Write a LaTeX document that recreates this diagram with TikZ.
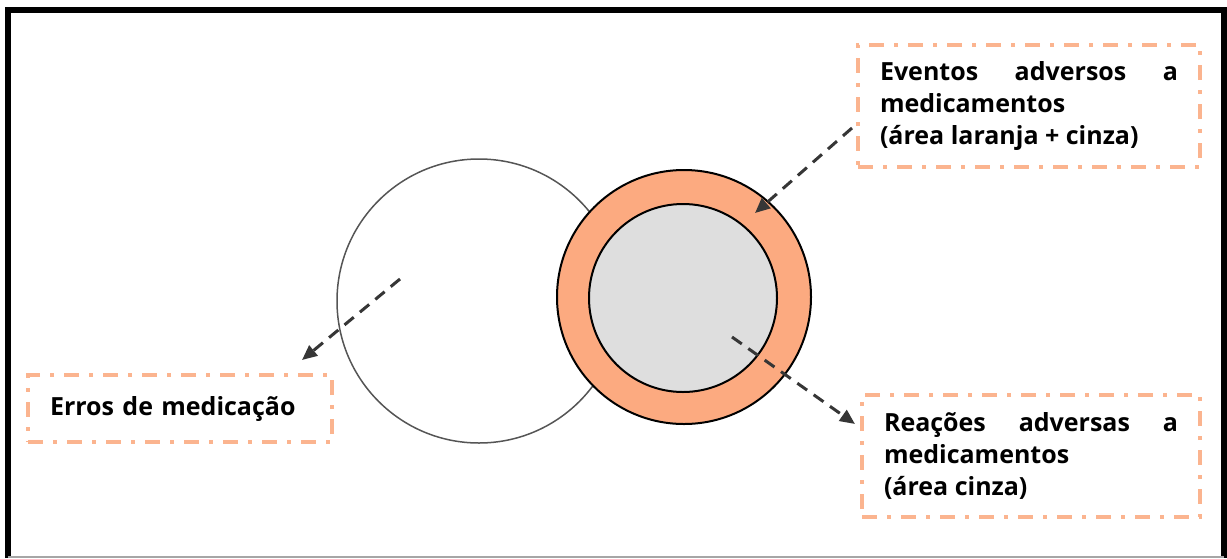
\documentclass[tikz,border=0pt]{standalone}
\usepackage{fontspec}
\setmainfont{Open Sans}
\usetikzlibrary{arrows.meta}
\definecolor{ringorange}{HTML}{FCAA80}
\definecolor{boxorange}{HTML}{FBB48F}
\definecolor{innergray}{HTML}{DEDEDE}
\definecolor{arrowgray}{HTML}{363636}
\definecolor{circgray}{HTML}{555555}
\tikzset{
  labelbox/.style={draw=boxorange, line width=4pt,
    dash pattern=on 15pt off 10pt on 4pt off 10pt,
    font=\fontsize{25}{32}\selectfont\bfseries, align=justify, anchor=center},
  pointer/.style={draw=arrowgray, line width=3pt, dash pattern=on 12pt off 8pt,
    -{Triangle[length=15pt,width=13pt]}},
}
\begin{document}
\begin{tikzpicture}[x=1pt,y=-1pt]
\useasboundingbox (0,0) rectangle (1227,558);
% frame
\draw[line width=6pt] (8,558) -- (8,10) -- (1224,10) -- (1224,558);
\draw[line width=1.5pt, gray!70] (8,557.2) -- (1224,557.2);
% circles
\node[circle, draw=circgray, line width=1.5pt, fill=white, minimum size=284pt, inner sep=0pt] (erros) at (479,301) {};
\node[circle, draw=black, line width=2pt, fill=ringorange, minimum size=254pt, inner sep=0pt] (eventos) at (684,297) {};
\node[circle, draw=black, line width=2pt, fill=innergray, minimum size=188pt, inner sep=0pt] (reacoes) at (683,298) {};
% boxes
\node[labelbox, text width=298pt, inner xsep=22pt, minimum height=122pt] (b1) at (1029,106)
  {Eventos\hfill adversos\hfill a\\ medicamentos\\ (área laranja + cinza)};
\node[labelbox, text width=260pt, inner xsep=22pt, minimum height=67pt, align=left] (b2) at (180,408.5)
  {Erros de medicação};
\node[labelbox, text width=294pt, inner xsep=22pt, minimum height=122pt] (b3) at (1031,456)
  {Reações\hfill adversas\hfill a\\ medicamentos\\ (área cinza)};
% pointer ends
\coordinate (p1s) at (400,279);
\coordinate (p1e) at (302,360);
\coordinate (p2s) at (852,128);
\coordinate (p2e) at (755,213);
\coordinate (p3s) at (732,337);
\coordinate (p3e) at (855,424);
\draw[pointer] (p1s) -- (p1e);
\draw[pointer] (p2s) -- (p2e);
\draw[pointer] (p3s) -- (p3e);
\end{tikzpicture}
\end{document}
